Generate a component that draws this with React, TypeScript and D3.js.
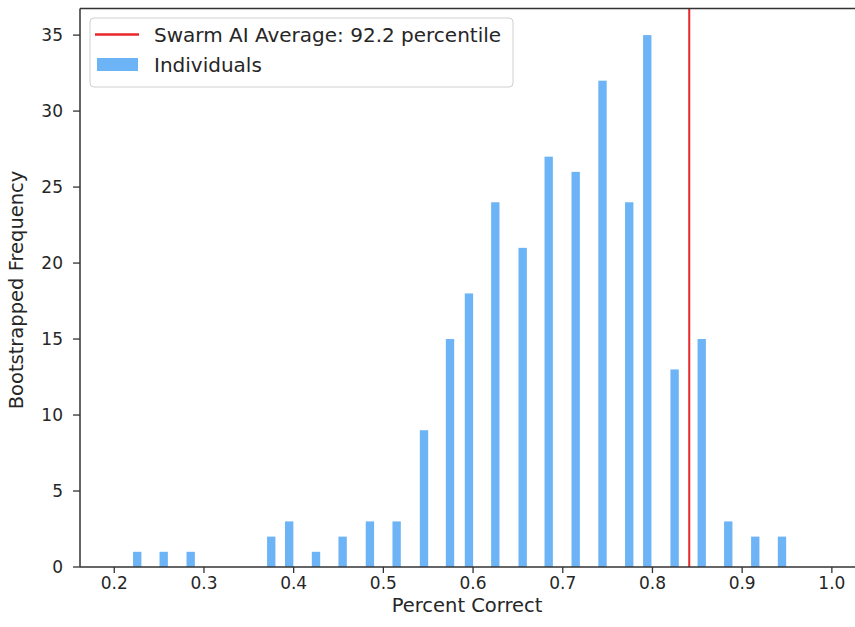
import * as d3 from "d3";

// bin centres (percent correct) and bootstrapped counts
const binCenters = [
  0.2256, 0.2551, 0.2852, 0.375, 0.395, 0.4249, 0.4546, 0.485, 0.5148, 0.5453,
  0.5743, 0.5954, 0.6248, 0.6553, 0.6843, 0.7144, 0.7443, 0.7741, 0.7942,
  0.8247, 0.8549, 0.8845, 0.9146, 0.9444,
];
const frequencies = [
  1, 1, 1, 2, 3, 1, 2, 3, 3, 9, 15, 18, 24, 21, 27, 26, 32, 24, 35, 13, 15, 3,
  2, 2,
];
const swarmAverage = 0.841;
const xTicks = [0.2, 0.3, 0.4, 0.5, 0.6, 0.7, 0.8, 0.9, 1.0];
const yTicks = [0, 5, 10, 15, 20, 25, 30, 35];
const legendLabels = ["Swarm AI Average: 92.2 percentile", "Individuals"];

const W = 855;
const H = 627;
const left = 80;
const top = 8.5;
const bottom = 567;
const font = "'DejaVu Sans', sans-serif";
const barColor = "#6cb4f6";
const lineColor = "#e8262b";
const axisColor = "#333";
const textColor = "#262626";

export default function App() {
  // axis runs past the right edge of the picture (cropped figure)
  const x = d3
    .scaleLinear()
    .domain([0.1618, 1.03])
    .range([left, left + (1.03 - 0.1618) * 897]);
  const y = d3.scaleLinear().domain([0, 36.75]).range([bottom, top]);
  const barW = x(0.2093) - x(0.2);

  return (
    <div style={{ position: "absolute", left: 0, top: 0 }}>
      <svg width={W} height={H} style={{ display: "block", background: "#fff" }}>
        {/* bars */}
        {binCenters.map((c, i) => (
          <rect
            key={i}
            x={x(c) - barW / 2}
            y={y(frequencies[i])}
            width={barW}
            height={y(0) - y(frequencies[i])}
            fill={barColor}
          />
        ))}

        {/* swarm average */}
        <line
          x1={x(swarmAverage)}
          x2={x(swarmAverage)}
          y1={top}
          y2={bottom}
          stroke={lineColor}
          strokeWidth={2}
        />

        {/* spines */}
        <line x1={left} x2={left} y1={top} y2={bottom} stroke={axisColor} strokeWidth={1.5} />
        <line x1={left} x2={x.range()[1]} y1={bottom} y2={bottom} stroke={axisColor} strokeWidth={1.5} />
        <line x1={left} x2={x.range()[1]} y1={top} y2={top} stroke={axisColor} strokeWidth={1.5} />

        {/* x axis */}
        {xTicks.map((t) => (
          <g key={t} transform={`translate(${x(t)},${bottom})`}>
            <line y1={0} y2={6} stroke={axisColor} strokeWidth={1.3} />
            <text
              y={22}
              textAnchor="middle"
              fontFamily={font}
              fontSize={17}
              fill={textColor}
            >
              {d3.format(".1f")(t)}
            </text>
          </g>
        ))}
        <text
          x={(x(0.2) + x(1.0)) / 2 - 6}
          y={612}
          textAnchor="middle"
          fontFamily={font}
          fontSize={19.5}
          fill={textColor}
        >
          Percent Correct
        </text>

        {/* y axis */}
        {yTicks.map((t) => (
          <g key={t} transform={`translate(${left},${y(t)})`}>
            <line x1={-7} x2={0} stroke={axisColor} strokeWidth={1.3} />
            <text
              x={-17}
              dy="0.35em"
              textAnchor="end"
              fontFamily={font}
              fontSize={17}
              fill={textColor}
            >
              {t}
            </text>
          </g>
        ))}
        <text
          transform={`translate(23,290) rotate(-90)`}
          textAnchor="middle"
          fontFamily={font}
          fontSize={19.5}
          fill={textColor}
        >
          Bootstrapped Frequency
        </text>

        {/* legend */}
        <g>
          <rect
            x={90}
            y={18}
            width={423}
            height={69}
            rx={4}
            fill="#fff"
            fillOpacity={0.85}
            stroke="#d0d0d0"
          />
          <line x1={95} x2={139} y1={34.5} y2={34.5} stroke={lineColor} strokeWidth={2.5} />
          <text x={154} y={35} dy="0.35em" fontFamily={font} fontSize={20} fill={textColor}>
            {legendLabels[0]}
          </text>
          <rect x={97} y={58} width={41} height={13} fill={barColor} />
          <text x={154} y={65} dy="0.35em" fontFamily={font} fontSize={20} fill={textColor}>
            {legendLabels[1]}
          </text>
        </g>
      </svg>
    </div>
  );
}
